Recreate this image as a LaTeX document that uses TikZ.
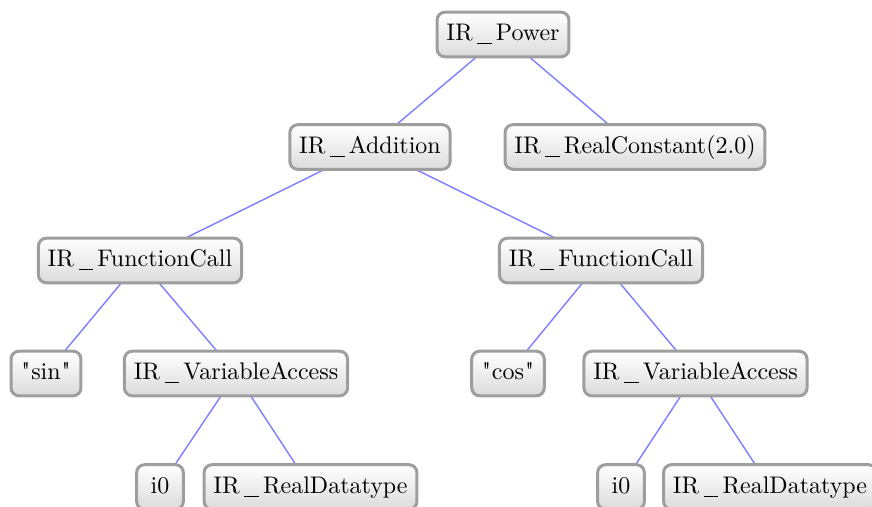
\documentclass[tikz,border=0pt]{standalone}
\usepackage{fontspec}
% a family without the TeX input mapping, for plain straight quotes
\newfontfamily\plainlm{Latin Modern Roman}[Ligatures=TeXOff]
% a low underscore with a little air on each side
\newcommand{\us}{\kern1.9pt\rule[-1.6pt]{6.1pt}{0.5pt}\kern1.7pt}
\newcommand{\qq}{{\kern0.4pt\plainlm\symbol{"22}\kern0.4pt}}
\begin{document}
\begin{tikzpicture}[x=0.417pt,y=-0.417pt,
  irnode/.style={draw=black!38, line width=1.25pt, rounded corners=3.3pt,
    top color=white, bottom color=black!14, inner xsep=3.9pt, inner ysep=4.3pt,
    text height=7.5pt, text depth=2.5pt, minimum width=19.5pt, font=\normalsize},
  link/.style={draw=blue!50, line width=0.6pt}]
\useasboundingbox (0,0) rectangle (872,506);
% edges are drawn first, centre to centre, and the boxes cover their ends
\coordinate (pw) at (503,34.5);
\coordinate (ad) at (370,147);
\coordinate (rc) at (635,147);
\coordinate (fl) at (140,260.5);
\coordinate (fr) at (601,260.5);
\coordinate (sn) at (46,373.5);
\coordinate (vl) at (236,373.5);
\coordinate (cs) at (508,373.5);
\coordinate (vr) at (695.5,373.5);
\coordinate (il) at (160,487);
\coordinate (dl) at (310.5,487);
\coordinate (ir) at (621,487);
\coordinate (dr) at (770,487);
\foreach \a/\b in {pw/ad,pw/rc,ad/fl,ad/fr,fl/sn,fl/vl,fr/cs,fr/vr,vl/il,vl/dl,vr/ir,vr/dr}
  \path[link] (\a) -- (\b);
\node[irnode] (power) at (pw) {IR\us Power};
\node[irnode] (add) at (ad) {IR\us Addition};
\node[irnode] (rconst) at (rc) {IR\us RealConstant(2.0)};
\node[irnode] (fcl) at (fl) {IR\us FunctionCall};
\node[irnode] (fcr) at (fr) {IR\us FunctionCall};
\node[irnode] (sin) at (sn) {\qq sin\qq};
\node[irnode] (val) at (vl) {IR\us VariableAccess};
\node[irnode] (cos) at (cs) {\qq cos\qq};
\node[irnode] (var) at (vr) {IR\us VariableAccess};
\node[irnode] (i0l) at (il) {i0};
\node[irnode] (rdl) at (dl) {IR\us RealDatatype};
\node[irnode] (i0r) at (ir) {i0};
\node[irnode] (rdr) at (dr) {IR\us RealDatatype};
\end{tikzpicture}
\end{document}
